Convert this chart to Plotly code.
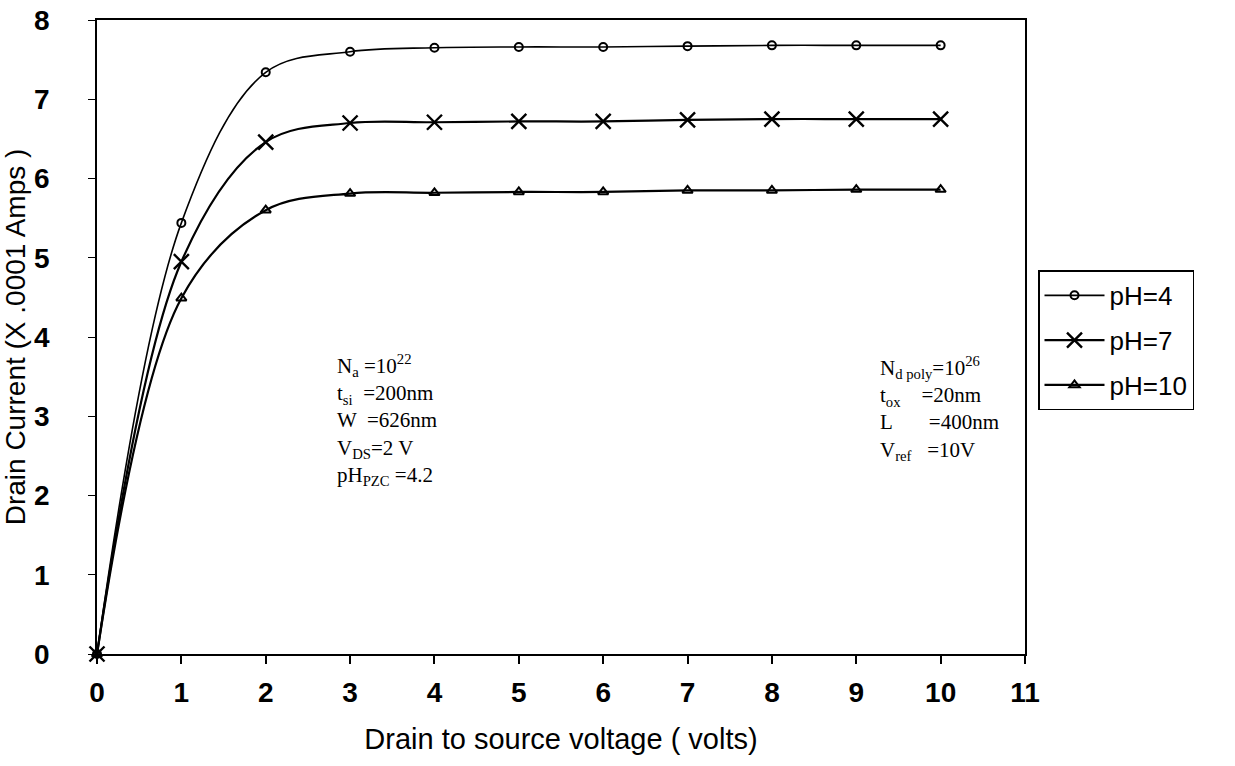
import plotly.graph_objects as go

x_volts = [0, 1, 2, 3, 4, 5, 6, 7, 8, 9, 10]
ph4 = [0, 5.44, 7.34, 7.60, 7.65, 7.66, 7.66, 7.67, 7.68, 7.68, 7.68]
ph7 = [0, 4.95, 6.46, 6.70, 6.71, 6.72, 6.72, 6.74, 6.75, 6.75, 6.75]
ph10 = [0, 4.49, 5.60, 5.81, 5.82, 5.83, 5.83, 5.85, 5.85, 5.86, 5.86]
x_ticks = list(range(0, 12))
y_ticks = list(range(0, 9))

left_text = ["N<sub>a</sub> =10<sup>22</sup>", "t<sub>si</sub>  =200nm", "W  =626nm",
             "V<sub>DS</sub>=2 V", "pH<sub>PZC</sub> =4.2"]
right_text = ["N<sub>d poly</sub>=10<sup>26</sup>", "t<sub>ox</sub>    =20nm",
              "L       =400nm", "V<sub>ref</sub>   =10V"]

SANS = "Liberation Sans, Arial, sans-serif"
SERIF = "Liberation Serif, Times New Roman, serif"

fig = go.Figure()
fig.add_trace(go.Scatter(x=x_volts, y=ph4, name="pH=4", mode="lines+markers", legendgroup="a",
                         line=dict(color="black", width=1.6, shape="spline", smoothing=1),
                         marker=dict(symbol="circle-open", size=8, color="black", line=dict(width=2)),
                         cliponaxis=False))
fig.add_trace(go.Scatter(x=x_volts, y=ph7, name="pH=7", mode="lines+markers", legendgroup="b",
                         line=dict(color="black", width=2.2, shape="spline", smoothing=1),
                         marker=dict(symbol="x-thin-open", size=15, color="black", line=dict(width=2.4, color="black")),
                         cliponaxis=False))
fig.add_trace(go.Scatter(x=x_volts, y=ph10, name="pH=10", mode="lines+markers", legendgroup="c",
                         line=dict(color="black", width=2.2, shape="spline", smoothing=1),
                         marker=dict(symbol="triangle-up-open", size=9, color="black", line=dict(width=2)),
                         cliponaxis=False))

plot_l, plot_r, plot_top, plot_bot = 97, 1025, 20, 654

def px_to_paper(px, py):
    return (px - plot_l) / (plot_r - plot_l), (plot_bot - py) / (plot_bot - plot_top)

ann = []
ax, ay = px_to_paper(335, 349)
ann.append(dict(x=ax, y=ay, xref="paper", yref="paper", text="<br>".join(left_text),
                showarrow=False, xanchor="left", yanchor="top", align="left",
                font=dict(family=SERIF, size=21, color="black")))
ax, ay = px_to_paper(878, 351)
ann.append(dict(x=ax, y=ay, xref="paper", yref="paper", text="<br>".join(right_text),
                showarrow=False, xanchor="left", yanchor="top", align="left",
                font=dict(family=SERIF, size=21, color="black")))

lx, _ = px_to_paper(1038, 0)

fig.update_layout(
    width=1235, height=766,
    margin=dict(l=97, r=210, t=20, b=112),
    paper_bgcolor="white", plot_bgcolor="white",
    font=dict(family=SANS, color="black", size=20),
    showlegend=True,
    legend=dict(x=lx, y=0.605, xanchor="left", yanchor="top",
                bordercolor="black", borderwidth=1.5, bgcolor="white",
                font=dict(size=26, family=SANS),
                itemwidth=60, tracegroupgap=8),
    annotations=ann,
    xaxis=dict(range=[0, 11], tickvals=x_ticks, ticktext=[str(v) for v in x_ticks],
               showgrid=False, zeroline=False, showline=True, linecolor="black", linewidth=2,
               mirror=True, ticks="outside", ticklen=8, tickwidth=1.5, tickcolor="black",
               tickfont=dict(size=28, family=SANS, weight="bold"),
               ticklabelstandoff=4, automargin=False,
               title=dict(text="Drain to source voltage ( volts)", standoff=22,
                          font=dict(size=29, family=SANS))),
    yaxis=dict(range=[0, 8], tickvals=y_ticks, showgrid=False, zeroline=False,
               showline=True, linecolor="black", linewidth=1.5, mirror=True,
               ticks="outside", ticklen=7, tickwidth=1, tickcolor="black",
               tickfont=dict(size=28, family=SANS, weight="bold"),
               ticklabelstandoff=33, automargin=False,
               title=dict(text="Drain Current (X .0001 Amps )", standoff=10,
                          font=dict(size=28, family=SANS))),
)

fig.write_html("out.html")
